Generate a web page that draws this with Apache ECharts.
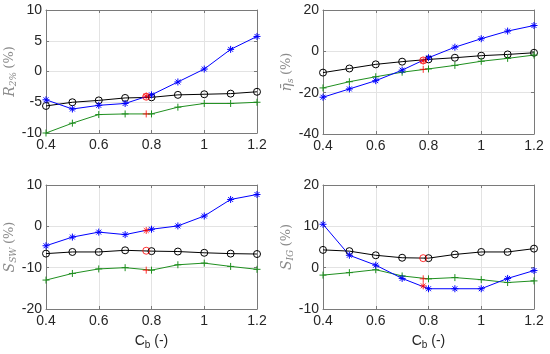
<!DOCTYPE html>
<html>
<head>
<meta charset="utf-8">
<script src="https://cdn.jsdelivr.net/npm/echarts@6/dist/echarts.min.js"></script>
<style>html,body{margin:0;padding:0;background:#fff;}#c{width:550px;height:354px;}</style>
</head>
<body>
<div id="c"></div>
<script>
// ---- data ----
const cb = [0.4, 0.5, 0.6, 0.7, 0.8, 0.9, 1.0, 1.1, 1.2];
const cbRef = 0.78;

const r2Blue  = [-4.6, -6.1, -5.5, -5.2, -3.8, -1.7, 0.4, 3.6, 5.7];
const r2Black = [-5.6, -5.0, -4.7, -4.3, -4.2, -3.8, -3.7, -3.6, -3.3];
const r2Green = [-10.0, -8.4, -7.0, -6.9, -6.9, -5.8, -5.2, -5.2, -5.0];
const r2Ref   = [-4.0, -4.1, -6.9];   // asterisk, circle, plus

const etaBlue  = [-22.2, -18.2, -14.2, -9.1, -3.1, 2.0, 6.1, 9.8, 12.5];
const etaBlack = [-10.3, -8.3, -6.3, -5.0, -3.9, -3.1, -2.1, -1.5, -0.7];
const etaGreen = [-17.7, -14.7, -12.3, -10.1, -8.5, -6.8, -4.8, -3.4, -1.8];
const etaRef   = [-4.6, -4.4, -8.7];

const swBlue  = [-4.7, -2.6, -1.4, -2.0, -0.7, 0.1, 2.5, 6.5, 7.7];
const swBlack = [-6.6, -6.2, -6.2, -5.8, -6.0, -6.1, -6.4, -6.6, -6.7];
const swGreen = [-13.0, -11.4, -10.3, -10.0, -10.6, -9.3, -8.9, -9.7, -10.4];
const swRef   = [-1.0, -5.9, -10.6];

const igBlue  = [10.5, 3.0, 0.6, -2.6, -5.1, -5.1, -5.1, -2.6, -0.7];
const igBlack = [4.3, 4.0, 3.0, 2.4, 2.3, 3.2, 3.8, 3.8, 4.6];
const igGreen = [-1.8, -1.2, -0.5, -2.0, -2.7, -2.4, -2.9, -3.6, -3.2];
const igRef   = [-4.4, 2.3, -2.7];

const xTicks = { min: 0.4, max: 1.2, interval: 0.2 };
const yRanges = [
  { min: -10, max: 10, interval: 5 },
  { min: -40, max: 20, interval: 20 },
  { min: -20, max: 10, interval: 10 },
  { min: -10, max: 20, interval: 10 }
];

// ---- styling ----
const SYM_PLUS = 'path://M5,0L5,10M0,5L10,5';
const SYM_STAR = 'path://M5,0L5,10M0,5L10,5M1.5,1.5L8.5,8.5M1.5,8.5L8.5,1.5';
const BLUE = '#0000ff', BLACK = '#000000', GREEN = '#1f8f1f', RED = '#ff0000';
const AXC = '#7a7a7a';
const TXT = '#262626';
const FONT = 'Liberation Sans, Arial, sans-serif';

const grids = [
  { left: 46, top: 10, width: 211, height: 123 },
  { left: 323, top: 10, width: 211, height: 124 },
  { left: 46, top: 185, width: 211, height: 124 },
  { left: 323, top: 185, width: 211, height: 124 }
];

const serifRich = {
  i: { fontFamily: 'DejaVu Serif, Liberation Serif, serif', fontStyle: 'italic', fontSize: 14, color: '#8a8a8a' },
  s: { fontFamily: 'DejaVu Serif, Liberation Serif, serif', fontStyle: 'italic', fontSize: 9, color: '#8a8a8a', padding: [7, 0, 0, 0] },
  n: { fontFamily: 'DejaVu Serif, Liberation Serif, serif', fontSize: 13, color: '#8a8a8a' }
};
const yNames = [
  '{i|R}{s|2%} {n|(%)}',
  '{i|\u03b7\u0304}{s|s} {n|(%)}',
  '{i|S}{s|SW} {n|(%)}',
  '{i|S}{s|IG} {n|(%)}'
];

const xAxes = [], yAxes = [], series = [];
grids.forEach((g, k) => {
  const bottom = k >= 2;
  xAxes.push({
    type: 'value', gridIndex: k, min: xTicks.min, max: xTicks.max, interval: xTicks.interval,
    axisLine: { show: true, onZero: false, lineStyle: { color: AXC, width: 1 } },
    axisTick: { show: true, inside: true, length: 3, lineStyle: { color: AXC } },
    axisLabel: { color: TXT, fontSize: 14, fontFamily: FONT, margin: 5 },
    splitLine: { show: true, lineStyle: { color: '#e3e3e3', width: 1 } },
    name: bottom ? 'C{b|b} (-)' : '',
    nameLocation: 'middle', nameGap: 23,
    nameTextStyle: { color: TXT, fontSize: 14, fontFamily: FONT,
      rich: { b: { fontSize: 10, fontFamily: FONT, color: TXT, padding: [8, 0, 0, 0] } } }
  });
  xAxes.push({
    type: 'value', gridIndex: k, position: 'top', min: xTicks.min, max: xTicks.max, interval: xTicks.interval,
    axisLine: { show: true, onZero: false, lineStyle: { color: AXC, width: 1 } },
    axisTick: { show: true, inside: true, length: 3, lineStyle: { color: AXC } },
    axisLabel: { show: false }, splitLine: { show: false }
  });
  const yr = yRanges[k];
  yAxes.push({
    type: 'value', gridIndex: k, min: yr.min, max: yr.max, interval: yr.interval,
    axisLine: { show: true, onZero: false, lineStyle: { color: AXC, width: 1 } },
    axisTick: { show: true, inside: true, length: 3, lineStyle: { color: AXC } },
    axisLabel: { color: TXT, fontSize: 14, fontFamily: FONT, margin: 4 },
    splitLine: { show: true, lineStyle: { color: '#e3e3e3', width: 1 } },
    name: yNames[k], nameLocation: 'middle', nameGap: 24, nameRotate: 90,
    nameTextStyle: { rich: serifRich }
  });
  yAxes.push({
    type: 'value', gridIndex: k, position: 'right', min: yr.min, max: yr.max, interval: yr.interval,
    axisLine: { show: true, onZero: false, lineStyle: { color: AXC, width: 1 } },
    axisTick: { show: true, inside: true, length: 3, lineStyle: { color: AXC } },
    axisLabel: { show: false }, splitLine: { show: false }
  });
});

const panels = [
  [r2Blue, r2Black, r2Green, r2Ref],
  [etaBlue, etaBlack, etaGreen, etaRef],
  [swBlue, swBlack, swGreen, swRef],
  [igBlue, igBlack, igGreen, igRef]
];
const pair = vals => vals.map((v, i) => [cb[i], v]);

panels.forEach((p, k) => {
  const xi = 2 * k, yi = 2 * k;
  const mk = (data, color, symbol, size) => ({
    type: 'line', xAxisIndex: xi, yAxisIndex: yi, data: pair(data),
    symbol: symbol, symbolSize: size, showSymbol: true,
    lineStyle: { color: color, width: 1 },
    itemStyle: { color: 'none', borderColor: color, borderWidth: 1 },
    silent: true, animation: false
  });
  series.push(mk(p[1], BLACK, 'circle', 7));
  series.push(mk(p[2], GREEN, SYM_PLUS, 7));
  series.push(mk(p[0], BLUE, SYM_STAR, 7));
  const ref = p[3];
  const rs = (v, symbol, size) => ({
    type: 'scatter', xAxisIndex: xi, yAxisIndex: yi, data: [[cbRef, v]],
    symbol: symbol, symbolSize: size, z: 5,
    itemStyle: { color: 'none', borderColor: RED, borderWidth: 1 },
    silent: true, animation: false
  });
  series.push(rs(ref[0], SYM_STAR, 7));
  series.push(rs(ref[1], 'circle', 7));
  series.push(rs(ref[2], SYM_PLUS, 7));
});

const chart = echarts.init(document.getElementById('c'), null, { renderer: 'canvas' });
chart.setOption({
  animation: false,
  backgroundColor: '#ffffff',
  grid: grids.map(g => Object.assign({ containLabel: false }, g)),
  xAxis: xAxes,
  yAxis: yAxes,
  series: series
});
</script>
</body>
</html>
